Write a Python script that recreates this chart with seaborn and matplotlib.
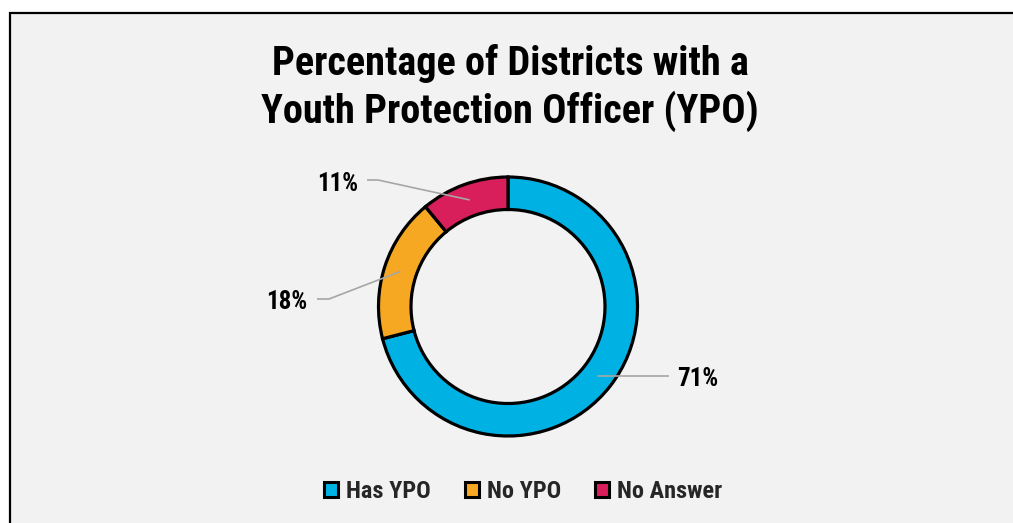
import matplotlib
matplotlib.use("Agg")
import matplotlib.pyplot as plt
from matplotlib import font_manager as fm
from matplotlib.patches import Rectangle, Patch
import numpy as np
import seaborn as sns

# Survey results
categories = ["Has YPO", "No YPO", "No Answer"]
shares = [71, 18, 11]
pct_labels = ["71%", "18%", "11%"]
title_lines = ["Percentage of Districts with a", "Youth Protection Officer (YPO)"]

sns.set_theme(style="white")
installed = {f.name for f in fm.fontManager.ttflist}
narrow = [n for n in ["Liberation Sans Narrow", "Arimo Narrow", "Roboto Condensed",
                      "Archivo Narrow", "PT Sans Narrow"] if n in installed]
plt.rcParams["font.family"] = narrow[:1] + ["Liberation Sans", "DejaVu Sans"]
plt.rcParams["font.weight"] = "bold"

colors = sns.color_palette(["#00B2E3", "#F7A823", "#D81E5B"])
BG = "#F2F2F2"

W, H = 1013, 523
fig = plt.figure(figsize=(W / 100, H / 100), dpi=100, facecolor="white")

# framed chart area (runs past the right and bottom edges)
fig.patches.append(Rectangle((10 / W, -0.05), 1.1, 1 - 13 / H + 0.05,
                             transform=fig.transFigure, facecolor=BG,
                             edgecolor="black", linewidth=1.6, zorder=-10))

# axes in pixel units covering the whole figure
ax = fig.add_axes([0, 0, 1, 1], zorder=1)
ax.patch.set_alpha(0)


def py(y_px):
    return H - y_px


cx, cy = 508, py(306.5)
R, ring = 129.5, 32.5

wedges, _ = ax.pie(shares, colors=colors, startangle=90, counterclock=False,
                   radius=R, center=(cx, cy), frame=True,
                   wedgeprops=dict(width=ring, edgecolor="black", linewidth=2.3))
ax.set_xlim(0, W)
ax.set_ylim(0, H)
ax.set_aspect("equal")
ax.axis("off")

# leader lines from the middle of each ring segment to its label
r_mid = R - ring / 2
label_layout = [
    dict(elbow=None, end_x=669, text_x=677, ha="left", base=386),
    dict(elbow=(329, 299), end_x=317, text_x=307, ha="right", base=309),
    dict(elbow=(378, 180), end_x=367, text_x=358, ha="right", base=191),
]
for w, lab, lay in zip(wedges, pct_labels, label_layout):
    ang = np.deg2rad((w.theta1 + w.theta2) / 2)
    x0, y0 = cx + r_mid * np.cos(ang), cy + r_mid * np.sin(ang)
    if lay["elbow"] is None:
        xs, ys = [x0, lay["end_x"]], [y0, y0]
    else:
        ex, ey = lay["elbow"]
        xs, ys = [x0, ex, lay["end_x"]], [y0, py(ey), py(ey)]
    ax.plot(xs, ys, color="#A6A6A6", linewidth=1.2, solid_capstyle="butt", zorder=5)
    ax.text(lay["text_x"], py(lay["base"]), lab, ha=lay["ha"], va="baseline",
            fontsize=18, fontweight="bold", color="black", zorder=6)

# two-line title
for line, base in zip(title_lines, [75, 123]):
    fig.text(510 / W, 1 - base / H, line, ha="center", va="baseline",
             fontsize=29, fontweight="bold", color="black")

handles = [Patch(facecolor=c, edgecolor="black", linewidth=2.2) for c in colors]
fig.legend(handles, categories, loc="center", bbox_to_anchor=(523 / W, 1 - 492 / H),
           ncol=3, frameon=False, prop=dict(size=17.5, weight="bold"),
           handlelength=0.58, handleheight=0.58, handletextpad=0.33,
           columnspacing=1.38, borderpad=0)

fig.savefig("out.png", dpi=100, facecolor="white")
